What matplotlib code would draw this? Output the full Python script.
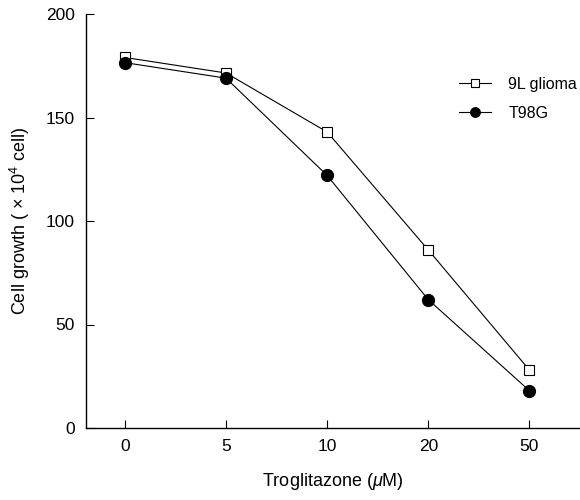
import matplotlib
matplotlib.use('Agg')
import matplotlib.pyplot as plt

plt.rcParams['font.family'] = ['Liberation Sans', 'DejaVu Sans']
plt.rcParams['mathtext.fontset'] = 'custom'
plt.rcParams['mathtext.rm'] = 'Liberation Sans'
plt.rcParams['mathtext.it'] = 'Liberation Sans:italic'

# data
doses = ['0', '5', '10', '20', '50']
glioma_9l = [179, 171.5, 143, 86, 28]
t98g = [176.5, 169, 122, 62, 18]

fig = plt.figure(figsize=(5.8, 5.0), dpi=100)
ax = fig.add_axes([0.148, 0.144, 0.852, 0.828])

x = range(len(doses))
ax.plot(x, glioma_9l, color='black', lw=0.8, marker='s', ms=7.5,
        mfc='white', mec='black', mew=0.8, label='9L glioma', zorder=3)
ax.plot(x, t98g, color='black', lw=0.8, marker='o', ms=8.5,
        mfc='black', mec='black', label='T98G', zorder=4)

ax.set_xlim(-0.386, 4.5)
ax.set_ylim(0, 200)
ax.set_xticks(list(x))
ax.set_xticklabels(doses)
ax.set_yticks([0, 50, 100, 150, 200])

for s in ['top', 'right']:
    ax.spines[s].set_visible(False)
for s in ['left', 'bottom']:
    ax.spines[s].set_linewidth(1.0)

ax.tick_params(direction='in', length=6, width=0.8, labelsize=12.5, pad=8)

ax.set_xlabel(r'Troglitazone ($\mu$M)', fontsize=13, labelpad=12)
ax.set_ylabel(r'Cell growth ( $\times$ 10$^{4}$ cell)', fontsize=13, labelpad=10)

ax.legend(loc='upper left', bbox_to_anchor=(0.755, 0.848), frameon=False,
          borderpad=0, borderaxespad=0, markerscale=0.8,
          fontsize=11.5, handlelength=2.0, handletextpad=1.1, labelspacing=0.85)

fig.savefig('out.png', dpi=100)
